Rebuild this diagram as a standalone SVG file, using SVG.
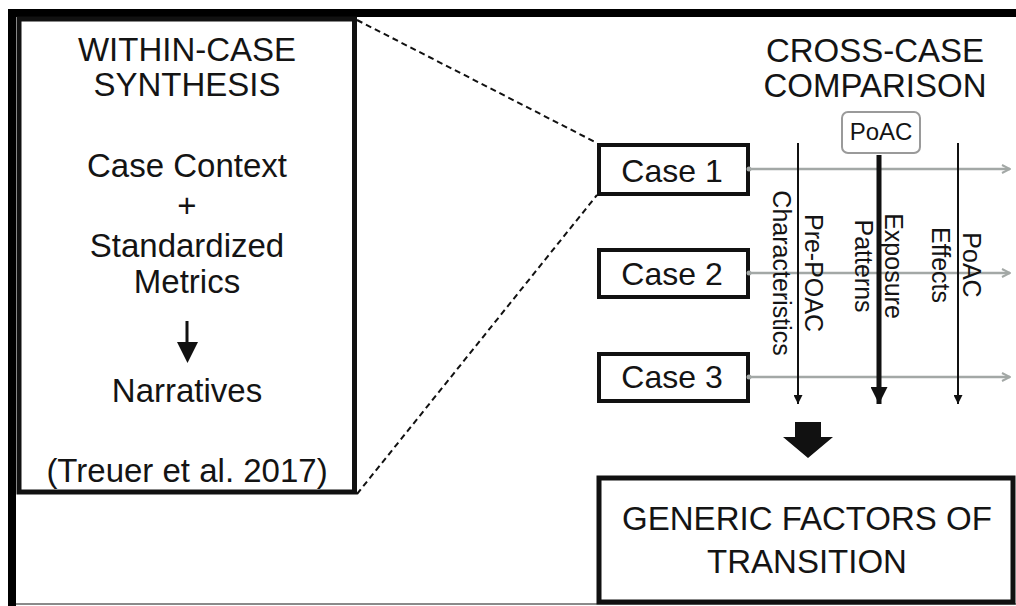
<svg xmlns="http://www.w3.org/2000/svg" width="1016" height="606" viewBox="0 0 1016 606">
<style>
  .t { font-family: "Liberation Sans", Arial, sans-serif; fill: #141414; text-anchor: middle; }
  .big { font-size: 33px; }
  .case { font-size: 32px; }
  .rot { font-size: 25px; }
  .box { fill: #ffffff; stroke: #111111; }
  .gray { stroke: #a3a8a6; stroke-width: 2.5; fill: none; }
  .thin { stroke: #111111; stroke-width: 2; fill: none; }
  .dash { stroke: #111111; stroke-width: 2; stroke-dasharray: 6 4; fill: none; }
</style>
<defs>
  <marker id="gh" viewBox="0 0 10 10" refX="9" refY="5" markerWidth="10" markerHeight="10" markerUnits="userSpaceOnUse" orient="auto">
    <path d="M1,1 L9,5 L1,9" fill="none" stroke="#a3a8a6" stroke-width="2"/>
  </marker>
  <marker id="bh" viewBox="0 0 10 10" refX="10" refY="5" markerWidth="10" markerHeight="9" markerUnits="userSpaceOnUse" orient="auto">
    <path d="M0,0 L10,5 L0,10 Z" fill="#111111"/>
  </marker>
  <marker id="bigh" viewBox="0 0 10 10" refX="10" refY="5" markerWidth="17" markerHeight="17" markerUnits="userSpaceOnUse" orient="auto">
    <path d="M0,0 L10,5 L0,10 Z" fill="#111111"/>
  </marker>
</defs>
<rect x="0" y="0" width="1016" height="606" fill="#ffffff"/>

<!-- outer frame -->
<g id="frame">
  <rect x="8" y="9" width="1008" height="8" fill="#000"/>
  <rect x="8" y="9" width="8" height="597" fill="#000"/>
  <line x1="16" y1="604" x2="1016" y2="604" stroke="#8a8a8a" stroke-width="2"/>
</g>

<!-- within-case -->
<g id="within-case">
  <rect class="box" x="19" y="19" width="335.5" height="473" stroke-width="5"/>
  <text class="t big" x="187" y="61">WITHIN-CASE</text>
  <text class="t big" x="187" y="96">SYNTHESIS</text>
  <text class="t big" x="187" y="177">Case Context</text>
  <text class="t big" x="187" y="217">+</text>
  <text class="t big" x="187" y="257">Standardized</text>
  <text class="t big" x="187" y="293">Metrics</text>
  <rect x="185.5" y="321" width="3" height="23" fill="#111"/>
  <polygon points="177,342 198,342 187.5,363" fill="#111"/>
  <text class="t big" x="187" y="402">Narratives</text>
  <text class="t big" x="187" y="482">(Treuer et al. 2017)</text>
</g>

<!-- cross-case title -->
<g id="cross-case-title">
  <text class="t big" x="875" y="62">CROSS-CASE</text>
  <text class="t big" x="875" y="97">COMPARISON</text>
</g>

<g id="case1">
  <rect class="box" x="599" y="145" width="149" height="49" stroke-width="4"/>
  <text class="t case" x="672" y="182">Case 1</text>
</g>
<g id="case2">
  <rect class="box" x="599" y="250" width="149" height="47" stroke-width="4"/>
  <text class="t case" x="672" y="285">Case 2</text>
</g>
<g id="case3">
  <rect class="box" x="599" y="354" width="149" height="47" stroke-width="4"/>
  <text class="t case" x="672" y="388">Case 3</text>
</g>

<g id="poac">
  <rect x="842" y="112" width="78" height="41" rx="6" fill="#fff" stroke="#9a9a9a" stroke-width="2"/>
  <text class="t" style="font-size:24px" x="881" y="140">PoAC</text>
</g>

<g id="generic">
  <rect class="box" x="599" y="478" width="414" height="124" stroke-width="5"/>
  <text class="t big" x="807" y="530">GENERIC FACTORS OF</text>
  <text class="t big" x="807" y="573">TRANSITION</text>
</g>

<g id="connectors">
  <line class="dash" x1="357" y1="20" x2="597" y2="143"/>
  <line class="dash" x1="357" y1="494" x2="597" y2="195"/>

  <line class="gray" x1="749" y1="169" x2="1010" y2="169" marker-end="url(#gh)"/>
  <line class="gray" x1="749" y1="273" x2="1010" y2="273" marker-end="url(#gh)"/>
  <line class="gray" x1="749" y1="377" x2="1010" y2="377" marker-end="url(#gh)"/>
  <circle cx="749" cy="169" r="2.5" fill="#a3a8a6"/>
  <circle cx="749" cy="273" r="2.5" fill="#a3a8a6"/>
  <circle cx="749" cy="377" r="2.5" fill="#a3a8a6"/>

  <line class="thin" x1="798" y1="143" x2="798" y2="404" marker-end="url(#bh)"/>
  <line x1="879" y1="155" x2="879" y2="404" stroke="#111" stroke-width="5" marker-end="url(#bigh)"/>
  <line class="thin" x1="958" y1="143" x2="958" y2="404" marker-end="url(#bh)"/>

  <polygon points="795,422 821,422 821,437 833,437 808,458 783,437 795,437" fill="#111"/>
</g>

<g id="labels">
  <g transform="translate(805,273) rotate(90)">
    <text class="t rot" x="0" y="0">Pre-POAC</text>
    <text class="t rot" x="0" y="32">Characteristics</text>
  </g>
  <g transform="translate(885,266) rotate(90)">
    <text class="t rot" x="0" y="0">Exposure</text>
    <text class="t rot" x="0" y="30">Patterns</text>
  </g>
  <g transform="translate(963,265) rotate(90)">
    <text class="t rot" x="0" y="0">PoAC</text>
    <text class="t rot" x="0" y="31">Effects</text>
  </g>
</g>
</svg>
